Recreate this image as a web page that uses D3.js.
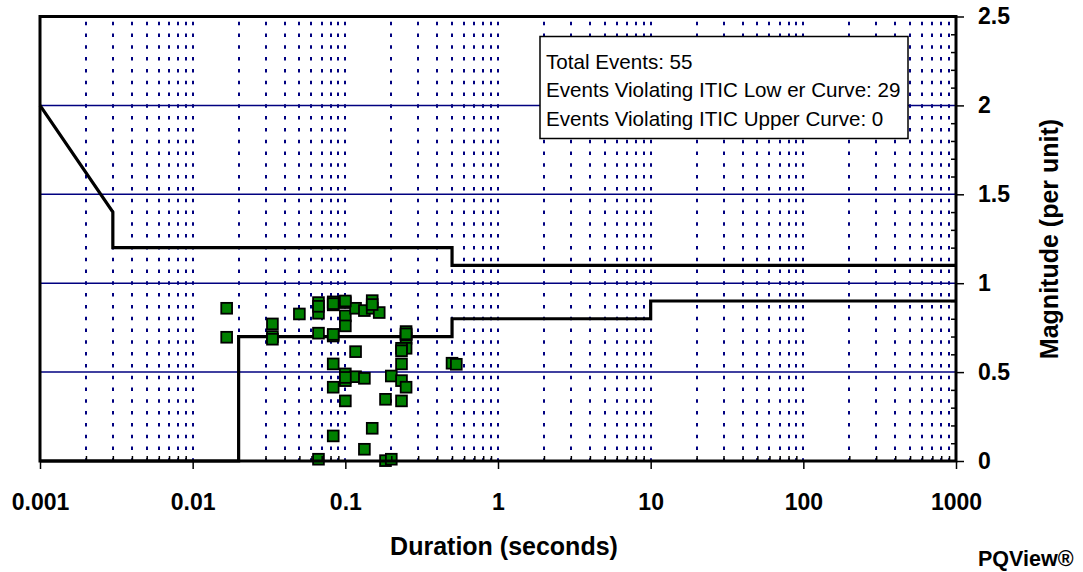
<!DOCTYPE html>
<html>
<head>
<meta charset="utf-8">
<script src="https://cdn.jsdelivr.net/npm/d3@7"></script>
<style>
  html, body { margin: 0; padding: 0; background: #ffffff; }
  svg { display: block; font-family: "Liberation Sans", Arial, sans-serif; }
</style>
</head>
<body>
<svg id="chart" width="1083" height="572"></svg>
<script>
// ---- data ----
const xMajorTicks = [0.001, 0.01, 0.1, 1, 10, 100, 1000];
const xTickLabels = ["0.001", "0.01", "0.1", "1", "10", "100", "1000"];
const yMajorTicks = [0, 0.5, 1, 1.5, 2, 2.5];
const yTickLabels = ["0", "0.5", "1", "1.5", "2", "2.5"];

// event durations (seconds) and magnitudes (per unit)
const durations = [
  0.0167, 0.0167, 0.0333, 0.0333, 0.0333, 0.05, 0.0667, 0.0667, 0.0667, 0.0667,
  0.0833, 0.0833, 0.0833, 0.0833, 0.0833, 0.0833, 0.1, 0.1, 0.1, 0.1,
  0.1, 0.1, 0.1167, 0.1333, 0.15, 0.15, 0.1667, 0.1167, 0.1167, 0.1333,
  0.1333, 0.15, 0.1833, 0.1833, 0.2, 0.2, 0.2333, 0.2333, 0.2333, 0.25,
  0.25, 0.25, 0.25, 0.2333, 0.5, 0.5333, 0.2333, 0.25, 0.1, 0.0833,
  0.0667, 0.0833, 0.15, 0.25, 0.1
];
const magnitudes = [
  0.859, 0.696, 0.771, 0.700, 0.685, 0.827, 0.891, 0.831, 0.719, 0.010,
  0.895, 0.878, 0.703, 0.546, 0.415, 0.141, 0.891, 0.816, 0.760, 0.490,
  0.452, 0.338, 0.859, 0.846, 0.902, 0.859, 0.835, 0.615, 0.474, 0.465,
  0.066, 0.184, 0.347, 0.002, 0.010, 0.478, 0.546, 0.452, 0.338, 0.415,
  0.728, 0.690, 0.634, 0.634, 0.550, 0.544, 0.620, 0.710, 0.470, 0.885,
  0.870, 0.712, 0.880, 0.715, 0.900
];

// ITIC curves
const iticLowerX = [0.001, 0.02, 0.02, 0.5, 0.5, 10, 10, 1000];
const iticLowerY = [0, 0, 0.7, 0.7, 0.8, 0.8, 0.9, 0.9];
const iticUpperX = [0.001, 0.003, 0.003, 0.5, 0.5, 1000];
const iticUpperY = [2.0, 1.4, 1.2, 1.2, 1.1, 1.1];

const legendLines = [
  "Total Events: 55",
  "Events Violating ITIC Low er Curve: 29",
  "Events Violating ITIC Upper Curve: 0"
];
const xTitle = "Duration (seconds)";
const yTitle = "Magnitude (per unit)";
const brand = "PQView\u00AE";

// ---- layout ----
const L = 40, R = 956, T = 16.5, B = 461;
const svg = d3.select("#chart");
const x = d3.scaleLog().domain([0.001, 1000]).range([L, R]);
const y = d3.scaleLinear().domain([0, 2.5]).range([B, T]);
const NAVY = "#000080";

// vertical dotted gridlines at every log tick (1..9 per decade)
const allXTicks = x.ticks().filter(v => v > 0.001 * 1.0001 && v < 1000 * 0.9999);
svg.append("g").selectAll("line").data(allXTicks).join("line")
  .attr("x1", d => Math.round(x(d))).attr("x2", d => Math.round(x(d)))
  .attr("y1", B).attr("y2", T)
  .attr("stroke", NAVY).attr("stroke-width", 2)
  .attr("stroke-dasharray", "3.5 8.3").attr("stroke-dashoffset", 0.8);

// horizontal solid gridlines
svg.append("g").selectAll("line").data(yMajorTicks.filter(v => v > 0 && v < 2.5)).join("line")
  .attr("x1", L).attr("x2", R)
  .attr("y1", d => y(d)).attr("y2", d => y(d))
  .attr("stroke", NAVY).attr("stroke-width", 1.5);

// ITIC curves
const line = d3.line().x(d => x(d[0])).y(d => y(d[1]));
svg.append("path")
  .attr("d", line(iticUpperX.map((v, i) => [v, iticUpperY[i]])))
  .attr("fill", "none").attr("stroke", "#000").attr("stroke-width", 3.2);
svg.append("path")
  .attr("d", line(iticLowerX.map((v, i) => [v, iticLowerY[i]])))
  .attr("fill", "none").attr("stroke", "#000").attr("stroke-width", 3.2);

// event markers
const MS = 10.8;
svg.append("g").selectAll("rect").data(durations.map((d, i) => [d, magnitudes[i]])).join("rect")
  .attr("x", d => x(d[0]) - MS / 2).attr("y", d => y(d[1]) - MS / 2)
  .attr("width", MS).attr("height", MS)
  .attr("fill", "#008000").attr("stroke", "#000").attr("stroke-width", 1.8);

// legend box
const lgX = 540, lgY = 36.5, lgW = 368, lgH = 102;
svg.append("rect").attr("x", lgX).attr("y", lgY).attr("width", lgW).attr("height", lgH)
  .attr("fill", "#fff").attr("stroke", "#000").attr("stroke-width", 1.5);
svg.append("g").selectAll("text").data(legendLines).join("text")
  .attr("x", lgX + 6).attr("y", (d, i) => 68.5 + i * 28.8)
  .attr("font-size", 20.6).attr("fill", "#000")
  .text(d => d);

// bottom axis: minor ticks inward, major ticks outward with labels
const minorX = allXTicks.filter(v => !xMajorTicks.some(m => Math.abs(m - v) / m < 1e-6));
const gxMinor = svg.append("g").attr("transform", `translate(0,${B})`)
  .call(d3.axisBottom(x).tickValues(minorX).tickSize(-5).tickFormat(""));
gxMinor.select(".domain").remove();
gxMinor.selectAll("line").attr("stroke", "#000").attr("stroke-width", 1.5);

const gxMajor = svg.append("g").attr("transform", `translate(0,${B})`)
  .call(d3.axisBottom(x).tickValues(xMajorTicks).tickSize(8).tickPadding(25)
    .tickFormat((d, i) => xTickLabels[i]));
gxMajor.select(".domain").remove();
gxMajor.selectAll("line").attr("stroke", "#000").attr("stroke-width", 1.5);
gxMajor.selectAll("text").attr("font-size", 23).attr("font-weight", "bold")
  .attr("font-family", "Liberation Sans, Arial, sans-serif").attr("fill", "#000");

// right axis
const minorY = y.ticks(25).filter(v => !yMajorTicks.some(m => Math.abs(m - v) < 1e-6));
const gyMinor = svg.append("g").attr("transform", `translate(${R},0)`)
  .call(d3.axisRight(y).tickValues(minorY).tickSize(-5).tickFormat(""));
gyMinor.select(".domain").remove();
gyMinor.selectAll("line").attr("stroke", "#000").attr("stroke-width", 1.5);

const gyMajor = svg.append("g").attr("transform", `translate(${R},0)`)
  .call(d3.axisRight(y).tickValues(yMajorTicks).tickSize(8).tickPadding(14)
    .tickFormat((d, i) => yTickLabels[i]));
gyMajor.select(".domain").remove();
gyMajor.selectAll("line").attr("stroke", "#000").attr("stroke-width", 1.5);
gyMajor.selectAll("text").attr("font-size", 23).attr("font-weight", "bold")
  .attr("font-family", "Liberation Sans, Arial, sans-serif").attr("fill", "#000");

// frame
svg.append("rect").attr("x", L).attr("y", T).attr("width", R - L).attr("height", B - T)
  .attr("fill", "none").attr("stroke", "#000").attr("stroke-width", 3);

// titles
svg.append("text").attr("x", 504).attr("y", 555).attr("text-anchor", "middle")
  .attr("font-size", 25).attr("font-weight", "bold").text(xTitle);
svg.append("text").attr("transform", "translate(1058,239) rotate(-90)")
  .attr("text-anchor", "middle").attr("font-size", 25).attr("font-weight", "bold").text(yTitle);
svg.append("text").attr("x", 978).attr("y", 566).attr("font-size", 21.5)
  .attr("font-weight", "bold").text(brand);
</script>
</body>
</html>
